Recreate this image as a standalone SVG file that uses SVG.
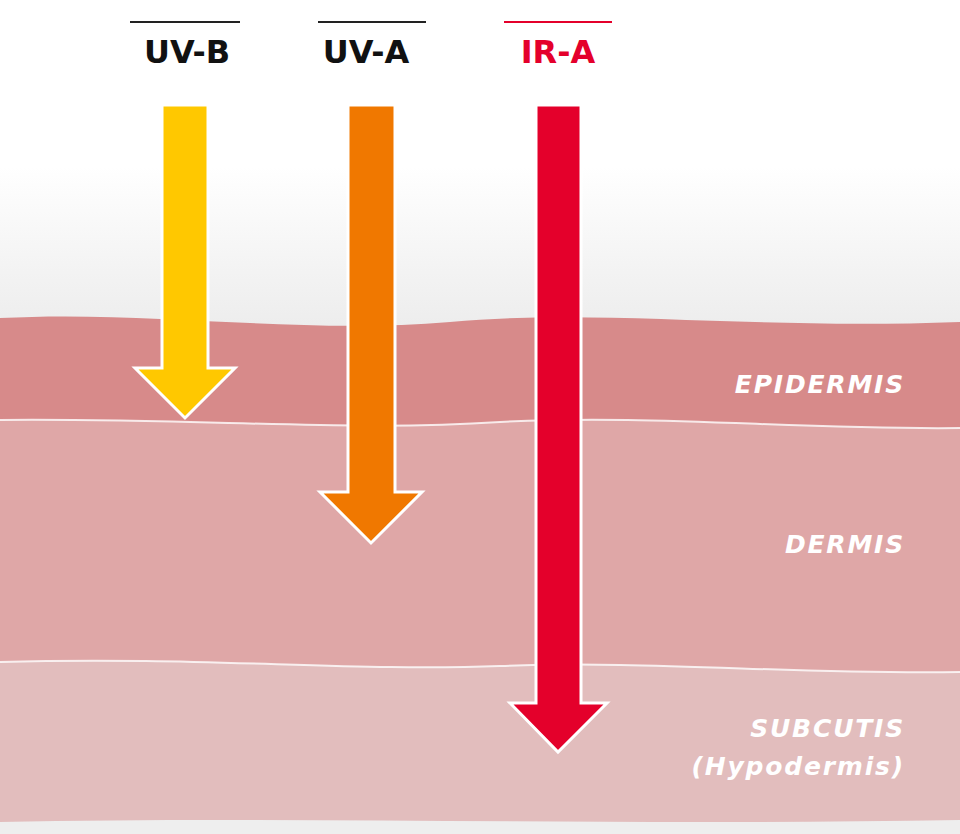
<svg xmlns="http://www.w3.org/2000/svg" width="960" height="834" viewBox="0 0 960 834">
<defs>
<linearGradient id="bg" x1="0" y1="0" x2="0" y2="1"><stop offset="0" stop-color="#ffffff"/><stop offset="0.2" stop-color="#ffffff"/><stop offset="0.4" stop-color="#ececec"/><stop offset="1" stop-color="#eeeeee"/></linearGradient>
<style>
.t{font-family:"DejaVu Sans",sans-serif;font-weight:bold;font-size:32px;text-anchor:middle}
.l{font-family:"DejaVu Sans",sans-serif;font-weight:bold;font-style:italic;font-size:25px;fill:#fff;text-anchor:end;letter-spacing:1.8px}
.sep{fill:none;stroke:#fff;stroke-width:2;opacity:.8}
.ar{stroke:#fff;stroke-width:3;stroke-linejoin:miter}
</style>
</defs>
<rect width="960" height="834" fill="url(#bg)"/>
<path d="M0 318 C150 310 300 335 450 322 C600 308 750 330 960 322 L960 834 L0 834 Z" fill="#d78a8a"/>
<path d="M0 420 C200 418 350 432 500 422 C650 414 800 430 960 428 L960 834 L0 834 Z" fill="#dfa7a7"/>
<path d="M0 662 C200 656 350 672 500 666 C650 660 800 675 960 672 L960 834 L0 834 Z" fill="#e2bdbd"/>
<path d="M0 822 C300 816 600 826 960 820 L960 834 L0 834 Z" fill="#eeeeee"/>
<path class="sep" d="M0 420 C200 418 350 432 500 422 C650 414 800 430 960 428"/>
<path class="sep" d="M0 662 C200 656 350 672 500 666 C650 660 800 675 960 672"/>
<g id="uvb"><line x1="130" y1="22" x2="240" y2="22" stroke="#222" stroke-width="2"/><text class="t" x="187" y="63" fill="#111">UV-B</text>
<polygon class="ar" fill="#ffc800" points="162,105 208,105 208,368 235,368 185,418 135,368 162,368"/></g>
<g id="uva"><line x1="318" y1="22" x2="426" y2="22" stroke="#222" stroke-width="2"/><text class="t" x="366" y="63" fill="#111">UV-A</text>
<polygon class="ar" fill="#f07800" points="348,105 395,105 395,492 422,492 371,543 320,492 348,492"/></g>
<g id="ira"><line x1="504" y1="22" x2="612" y2="22" stroke="#e4002b" stroke-width="2"/><text class="t" x="558" y="63" fill="#e4002b">IR-A</text>
<polygon class="ar" fill="#e4002b" points="536,105 581,105 581,703 607,703 558,752 510,703 536,703"/></g>
<text class="l" x="905" y="393">EPIDERMIS</text>
<text class="l" x="905" y="553">DERMIS</text>
<text class="l" x="905" y="737">SUBCUTIS</text>
<text class="l" x="905" y="775">(Hypodermis)</text>
</svg>
